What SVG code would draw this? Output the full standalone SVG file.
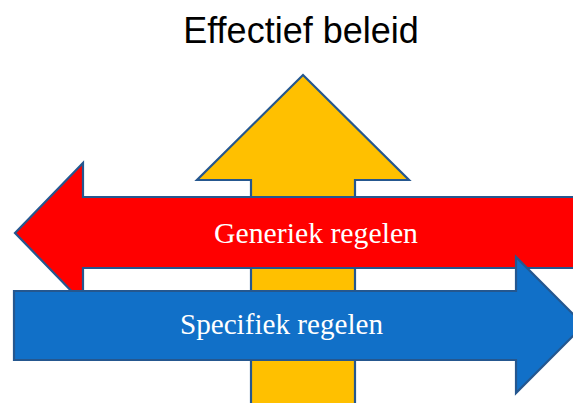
<svg xmlns="http://www.w3.org/2000/svg" width="573" height="403" viewBox="0 0 573 403">
<style>
.arrow{stroke:#25578f;stroke-width:2.2;stroke-linejoin:miter}
.lbl{font-family:"Liberation Serif","Times New Roman",serif;font-size:29px;fill:#ffffff;text-anchor:middle}
.title{font-family:"Liberation Sans",Arial,sans-serif;font-size:36px;fill:#000000;text-anchor:middle}
</style>
<rect width="573" height="403" fill="#ffffff"/>
<text class="title" x="301" y="43">Effectief beleid</text>
<g id="effectief">
<polygon class="arrow" fill="#FFC000" points="303,75 409,180 355,180 355,410 251,410 251,180 197,180"/>
</g>
<g id="generiek">
<polygon class="arrow" fill="#FF0000" points="15,233 83,163 83,197 580,197 580,268 83,268 83,303"/>
<text class="lbl" x="316" y="243" textLength="204" lengthAdjust="spacingAndGlyphs">Generiek regelen</text>
</g>
<g id="specifiek">
<polygon class="arrow" fill="#1170C8" points="14,291 516,291 516,257 584,325 516,393 516,360 14,360"/>
<text class="lbl" x="281.5" y="334" textLength="203" lengthAdjust="spacingAndGlyphs">Specifiek regelen</text>
</g>
<g id="connectors"></g>
</svg>
